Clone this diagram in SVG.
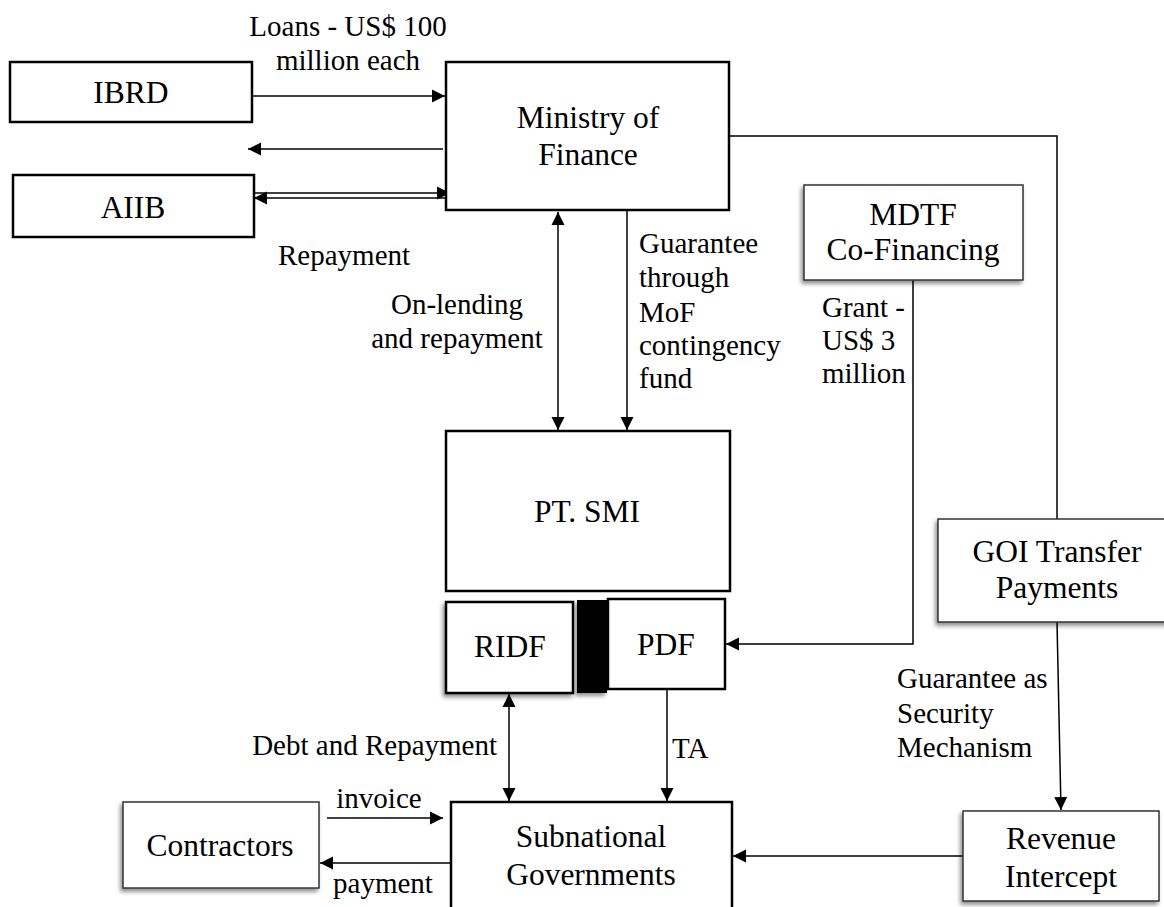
<svg xmlns="http://www.w3.org/2000/svg" width="1164" height="907" viewBox="0 0 1164 907">
<style>
  .node { font-family: "Liberation Serif", "Times New Roman", serif; font-size: 31.5px; fill: #000; text-anchor: middle; }
  .lbl { font-family: "Liberation Serif", "Times New Roman", serif; font-size: 29px; fill: #000; }
  .mid { text-anchor: middle; }
  .end { text-anchor: end; }
  .box { fill: #fff; stroke: #000; stroke-width: 2.5; }
  .sbox { fill: #fff; stroke: #333; stroke-width: 1.5; filter: url(#shadow); }
  .conn { fill: none; stroke: #000; stroke-width: 1.5; }
</style>
<defs>
  <marker id="arr" markerUnits="userSpaceOnUse" markerWidth="14" markerHeight="14" refX="13" refY="7" orient="auto-start-reverse">
    <path d="M0,0.5 L13,7 L0,13.5 z" fill="#000"/>
  </marker>
  <filter id="shadow" x="-20%" y="-20%" width="140%" height="150%">
    <feDropShadow dx="-2" dy="3" stdDeviation="2.2" flood-color="#000" flood-opacity="0.45"/>
  </filter>
</defs>
<rect width="1164" height="907" fill="#fff"/>

<g id="connectors">
  <line class="conn" x1="252" y1="96" x2="445" y2="96" marker-end="url(#arr)"/>
  <line class="conn" x1="443" y1="149" x2="248" y2="149" marker-end="url(#arr)"/>
  <line class="conn" x1="255" y1="193" x2="450" y2="193" marker-end="url(#arr)"/>
  <line class="conn" x1="448" y1="198" x2="254" y2="198" marker-end="url(#arr)"/>
  <line class="conn" x1="558" y1="212" x2="558" y2="430" marker-start="url(#arr)" marker-end="url(#arr)"/>
  <line class="conn" x1="627" y1="210" x2="627" y2="430" marker-end="url(#arr)"/>
  <path class="conn" d="M913,280 V644 H726" marker-end="url(#arr)"/>
  <path class="conn" d="M729,136 H1057 V519"/>
  <line class="conn" x1="1057" y1="622" x2="1061" y2="810" marker-end="url(#arr)"/>
  <line class="conn" x1="963" y1="856" x2="733" y2="856" marker-end="url(#arr)"/>
  <line class="conn" x1="509" y1="694" x2="509" y2="801" marker-start="url(#arr)" marker-end="url(#arr)"/>
  <line class="conn" x1="667" y1="689" x2="667" y2="801" marker-end="url(#arr)"/>
  <line class="conn" x1="327" y1="818" x2="443" y2="818" marker-end="url(#arr)"/>
  <line class="conn" x1="451" y1="863" x2="320" y2="863" marker-end="url(#arr)"/>
</g>

<g id="labels">
  <text class="lbl mid" x="348" y="36">Loans - US$ 100</text>
  <text class="lbl mid" x="348" y="70">million each</text>
  <text class="lbl" x="278" y="265">Repayment</text>
  <text class="lbl mid" x="457" y="314">On-lending</text>
  <text class="lbl mid" x="457" y="348">and repayment</text>
  <text class="lbl" x="639" y="253">Guarantee</text>
  <text class="lbl" x="639" y="287">through</text>
  <text class="lbl" x="639" y="322">MoF</text>
  <text class="lbl" x="639" y="355">contingency</text>
  <text class="lbl" x="639" y="388">fund</text>
  <text class="lbl" x="822" y="317">Grant -</text>
  <text class="lbl" x="822" y="350">US$ 3</text>
  <text class="lbl" x="822" y="383">million</text>
  <text class="lbl" x="897" y="688">Guarantee as</text>
  <text class="lbl" x="897" y="723">Security</text>
  <text class="lbl" x="897" y="757">Mechanism</text>
  <text class="lbl end" x="497" y="755">Debt and Repayment</text>
  <text class="lbl" x="672" y="758">TA</text>
  <text class="lbl mid" x="379" y="808">invoice</text>
  <text class="lbl mid" x="383" y="893">payment</text>
</g>

<g id="ibrd">
  <rect class="box" x="10" y="62" width="242" height="60"/>
  <text class="node" x="131" y="103">IBRD</text>
</g>
<g id="aiib">
  <rect class="box" x="13" y="175" width="241" height="62"/>
  <text class="node" x="133" y="218">AIIB</text>
</g>
<g id="mof">
  <rect class="box" x="446" y="62" width="283" height="148"/>
  <text class="node" x="588" y="128">Ministry of</text>
  <text class="node" x="588" y="165">Finance</text>
</g>
<g id="mdtf">
  <rect class="sbox" x="804" y="185" width="219" height="95"/>
  <text class="node" x="913" y="225">MDTF</text>
  <text class="node" x="913" y="260">Co-Financing</text>
</g>
<g id="ptsmi">
  <rect class="box" x="446" y="431" width="284" height="160"/>
  <text class="node" x="587" y="522">PT. SMI</text>
</g>
<g id="ridf">
  <rect class="box" x="446" y="602" width="127" height="91" filter="url(#shadow)"/>
  <text class="node" x="510" y="657">RIDF</text>
</g>
<g id="bar">
  <rect x="577" y="600" width="30" height="93" fill="#000" filter="url(#shadow)"/>
</g>
<g id="pdf">
  <rect class="box" x="608" y="599" width="117" height="90"/>
  <text class="node" x="666" y="655">PDF</text>
</g>
<g id="goi">
  <rect class="sbox" x="938" y="519" width="240" height="103"/>
  <text class="node" x="1057" y="562">GOI Transfer</text>
  <text class="node" x="1057" y="598">Payments</text>
</g>
<g id="contractors">
  <rect class="sbox" x="123" y="802" width="196" height="86"/>
  <text class="node" x="220" y="856">Contractors</text>
</g>
<g id="subnational">
  <rect class="box" x="451" y="802" width="281" height="120"/>
  <text class="node" x="591" y="847">Subnational</text>
  <text class="node" x="591" y="885">Governments</text>
</g>
<g id="revenue">
  <rect class="sbox" x="963" y="811" width="196" height="90"/>
  <text class="node" x="1061" y="849">Revenue</text>
  <text class="node" x="1061" y="887">Intercept</text>
</g>
</svg>
